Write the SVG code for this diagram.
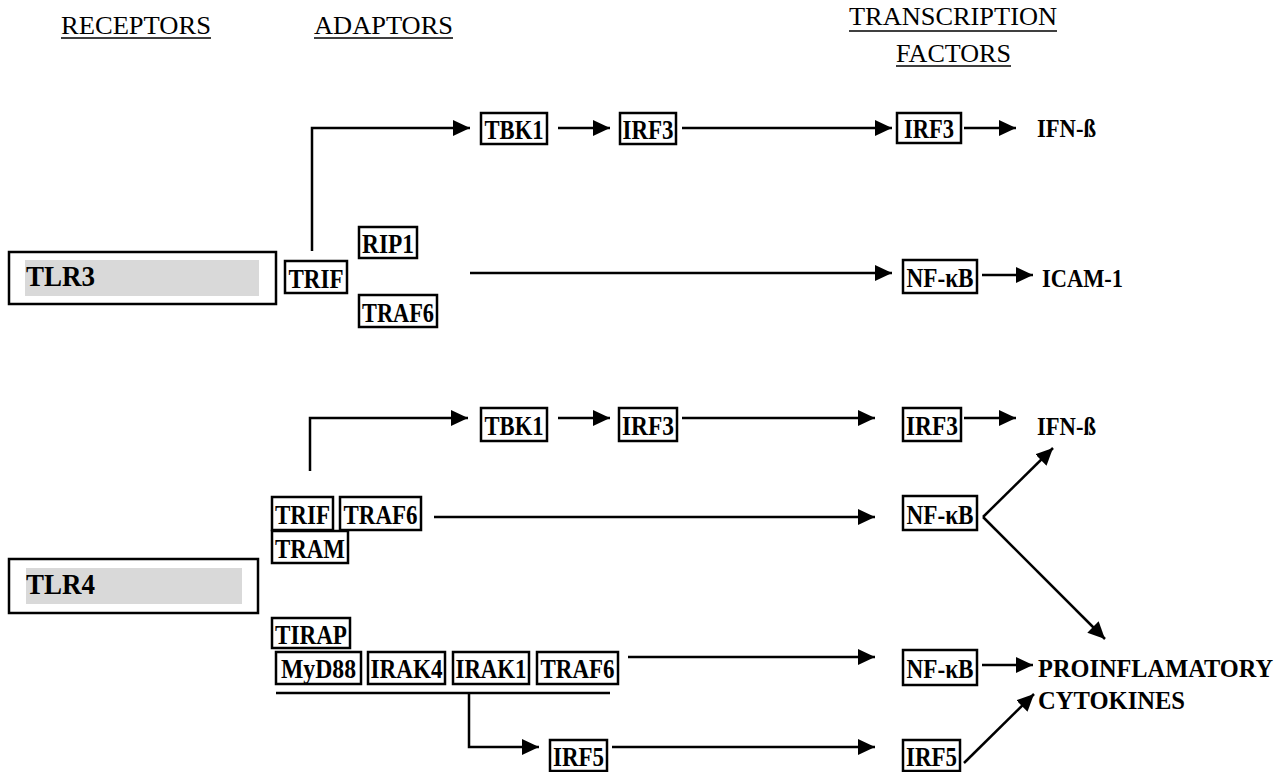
<svg xmlns="http://www.w3.org/2000/svg" width="1287" height="772" viewBox="0 0 1287 772">
<style>
.hdr{font-family:"Liberation Serif",serif;font-size:26px;fill:#000}
.ul{stroke:#000;stroke-width:1.5}
.box{fill:#fff;stroke:#000;stroke-width:2.5}
.lbl{font-family:"Liberation Serif",serif;font-weight:bold;font-size:27px;fill:#000;text-anchor:middle}
.out{font-family:"Liberation Serif",serif;font-weight:bold;font-size:26px;fill:#000}
.tlr{font-family:"Liberation Serif",serif;font-weight:bold;font-size:29px;fill:#000}
.gray{fill:#d9d9d9}
.c{fill:none;stroke:#000;stroke-width:2.5}
</style>
<defs>
<marker id="ah" markerUnits="userSpaceOnUse" markerWidth="18" markerHeight="16" refX="17" refY="8" orient="auto">
<path d="M0,0 L17,8 L0,16 z" fill="#000"/>
</marker>
</defs>
<rect width="1287" height="772" fill="#fff"/>
<g id="headers">
<text class="hdr" x="61" y="34" textLength="150" lengthAdjust="spacingAndGlyphs">RECEPTORS</text>
<line class="ul" x1="61" y1="38" x2="211" y2="38"/>
<text class="hdr" x="314" y="34" textLength="139" lengthAdjust="spacingAndGlyphs">ADAPTORS</text>
<line class="ul" x1="314" y1="38" x2="453" y2="38"/>
<text class="hdr" x="849" y="25" textLength="208" lengthAdjust="spacingAndGlyphs">TRANSCRIPTION</text>
<line class="ul" x1="849" y1="31" x2="1057" y2="31"/>
<text class="hdr" x="896" y="62" textLength="115" lengthAdjust="spacingAndGlyphs">FACTORS</text>
<line class="ul" x1="896" y1="66" x2="1011" y2="66"/>
</g>
<g id="connectors">
<path class="c" d="M312,251 V128 H470" marker-end="url(#ah)"/>
<path class="c" d="M558,128 H610" marker-end="url(#ah)"/>
<path class="c" d="M682,128 H892" marker-end="url(#ah)"/>
<path class="c" d="M964,128 H1016" marker-end="url(#ah)"/>
<path class="c" d="M470,273 H892" marker-end="url(#ah)"/>
<path class="c" d="M982,275 H1033" marker-end="url(#ah)"/>
<path class="c" d="M310,471 V418 H468" marker-end="url(#ah)"/>
<path class="c" d="M558,418 H610" marker-end="url(#ah)"/>
<path class="c" d="M682,418 H875" marker-end="url(#ah)"/>
<path class="c" d="M964,418 H1016" marker-end="url(#ah)"/>
<path class="c" d="M434,517 H875" marker-end="url(#ah)"/>
<path class="c" d="M983,517 L1053,448" marker-end="url(#ah)"/>
<path class="c" d="M983,517 L1105,639" marker-end="url(#ah)"/>
<path class="c" d="M628,657 H875" marker-end="url(#ah)"/>
<path class="c" d="M982,665 H1033" marker-end="url(#ah)"/>
<line class="c" x1="276" y1="693" x2="610" y2="693"/>
<path class="c" d="M469,693 V747 H539" marker-end="url(#ah)"/>
<path class="c" d="M612,747 H875" marker-end="url(#ah)"/>
<path class="c" d="M964,763 L1034,694" marker-end="url(#ah)"/>
</g>
<g id="TLR3">
<rect class="box" x="9" y="252" width="267" height="52"/>
<rect class="gray" x="25" y="260" width="234" height="36"/>
<text class="tlr" x="26" y="286" textLength="69" lengthAdjust="spacingAndGlyphs">TLR3</text>
</g>
<g id="TRIF1"><rect class="box" x="285" y="261" width="62" height="32"/><text class="lbl" x="316" y="288" textLength="55" lengthAdjust="spacingAndGlyphs">TRIF</text></g>
<g id="RIP1"><rect class="box" x="359" y="227" width="58" height="31"/><text class="lbl" x="388" y="253" textLength="52" lengthAdjust="spacingAndGlyphs">RIP1</text></g>
<g id="TRAF6a"><rect class="box" x="359" y="295" width="78" height="32"/><text class="lbl" x="398" y="322" textLength="72" lengthAdjust="spacingAndGlyphs">TRAF6</text></g>
<g id="TBK1a"><rect class="box" x="481" y="113" width="66" height="31"/><text class="lbl" x="514" y="139" textLength="59" lengthAdjust="spacingAndGlyphs">TBK1</text></g>
<g id="IRF3a"><rect class="box" x="620" y="113" width="56" height="31"/><text class="lbl" x="648" y="139" textLength="51" lengthAdjust="spacingAndGlyphs">IRF3</text></g>
<g id="IRF3b"><rect class="box" x="897" y="113" width="64" height="30"/><text class="lbl" x="929" y="138" textLength="50" lengthAdjust="spacingAndGlyphs">IRF3</text></g>
<g id="IFNb1"><text class="out" x="1037" y="137" textLength="59" lengthAdjust="spacingAndGlyphs">IFN-ß</text></g>
<g id="NFkB1"><rect class="box" x="903" y="260" width="74" height="33"/><text class="lbl" x="940" y="287" textLength="67" lengthAdjust="spacingAndGlyphs">NF-κB</text></g>
<g id="ICAM1"><text class="out" x="1042" y="287" textLength="81" lengthAdjust="spacingAndGlyphs">ICAM-1</text></g>
<g id="TLR4">
<rect class="box" x="9" y="559" width="249" height="54"/>
<rect class="gray" x="26" y="568" width="216" height="36"/>
<text class="tlr" x="26" y="594" textLength="69" lengthAdjust="spacingAndGlyphs">TLR4</text>
</g>
<g id="TBK1b"><rect class="box" x="481" y="408" width="66" height="33"/><text class="lbl" x="514" y="435" textLength="59" lengthAdjust="spacingAndGlyphs">TBK1</text></g>
<g id="IRF3c"><rect class="box" x="619" y="408" width="58" height="33"/><text class="lbl" x="648" y="435" textLength="52" lengthAdjust="spacingAndGlyphs">IRF3</text></g>
<g id="IRF3d"><rect class="box" x="903" y="408" width="58" height="33"/><text class="lbl" x="932" y="435" textLength="52" lengthAdjust="spacingAndGlyphs">IRF3</text></g>
<g id="IFNb2"><text class="out" x="1037" y="435" textLength="59" lengthAdjust="spacingAndGlyphs">IFN-ß</text></g>
<g id="TRIF2"><rect class="box" x="272" y="497" width="61" height="33"/><text class="lbl" x="302.5" y="524" textLength="55" lengthAdjust="spacingAndGlyphs">TRIF</text></g>
<g id="TRAF6b"><rect class="box" x="340" y="497" width="81" height="33"/><text class="lbl" x="380.5" y="524" textLength="74" lengthAdjust="spacingAndGlyphs">TRAF6</text></g>
<g id="TRAM"><rect class="box" x="272" y="531" width="76" height="32"/><text class="lbl" x="310" y="558" textLength="70" lengthAdjust="spacingAndGlyphs">TRAM</text></g>
<g id="NFkB2"><rect class="box" x="903" y="496" width="74" height="34"/><text class="lbl" x="940" y="524" textLength="67" lengthAdjust="spacingAndGlyphs">NF-κB</text></g>
<g id="TIRAP"><rect class="box" x="272" y="618" width="78" height="30"/><text class="lbl" x="311" y="644" textLength="72" lengthAdjust="spacingAndGlyphs">TIRAP</text></g>
<g id="MyD88"><rect class="box" x="276" y="652" width="85" height="32"/><text class="lbl" x="318.5" y="678" textLength="75" lengthAdjust="spacingAndGlyphs">MyD88</text></g>
<g id="IRAK4"><rect class="box" x="368" y="652" width="77" height="32"/><text class="lbl" x="406.5" y="678" textLength="72" lengthAdjust="spacingAndGlyphs">IRAK4</text></g>
<g id="IRAK1"><rect class="box" x="453" y="652" width="76" height="32"/><text class="lbl" x="491" y="678" textLength="71" lengthAdjust="spacingAndGlyphs">IRAK1</text></g>
<g id="TRAF6c"><rect class="box" x="537" y="652" width="81" height="32"/><text class="lbl" x="577.5" y="678" textLength="74" lengthAdjust="spacingAndGlyphs">TRAF6</text></g>
<g id="NFkB3"><rect class="box" x="903" y="650" width="74" height="35"/><text class="lbl" x="940" y="678" textLength="67" lengthAdjust="spacingAndGlyphs">NF-κB</text></g>
<g id="PRO"><text class="out" x="1038" y="677" textLength="235" lengthAdjust="spacingAndGlyphs">PROINFLAMATORY</text><text class="out" x="1038" y="709" textLength="147" lengthAdjust="spacingAndGlyphs">CYTOKINES</text></g>
<g id="IRF5a"><rect class="box" x="550" y="740" width="57" height="31"/><text class="lbl" x="578.5" y="766" textLength="51" lengthAdjust="spacingAndGlyphs">IRF5</text></g>
<g id="IRF5b"><rect class="box" x="903" y="740" width="57" height="31"/><text class="lbl" x="931.5" y="766" textLength="51" lengthAdjust="spacingAndGlyphs">IRF5</text></g>
</svg>
